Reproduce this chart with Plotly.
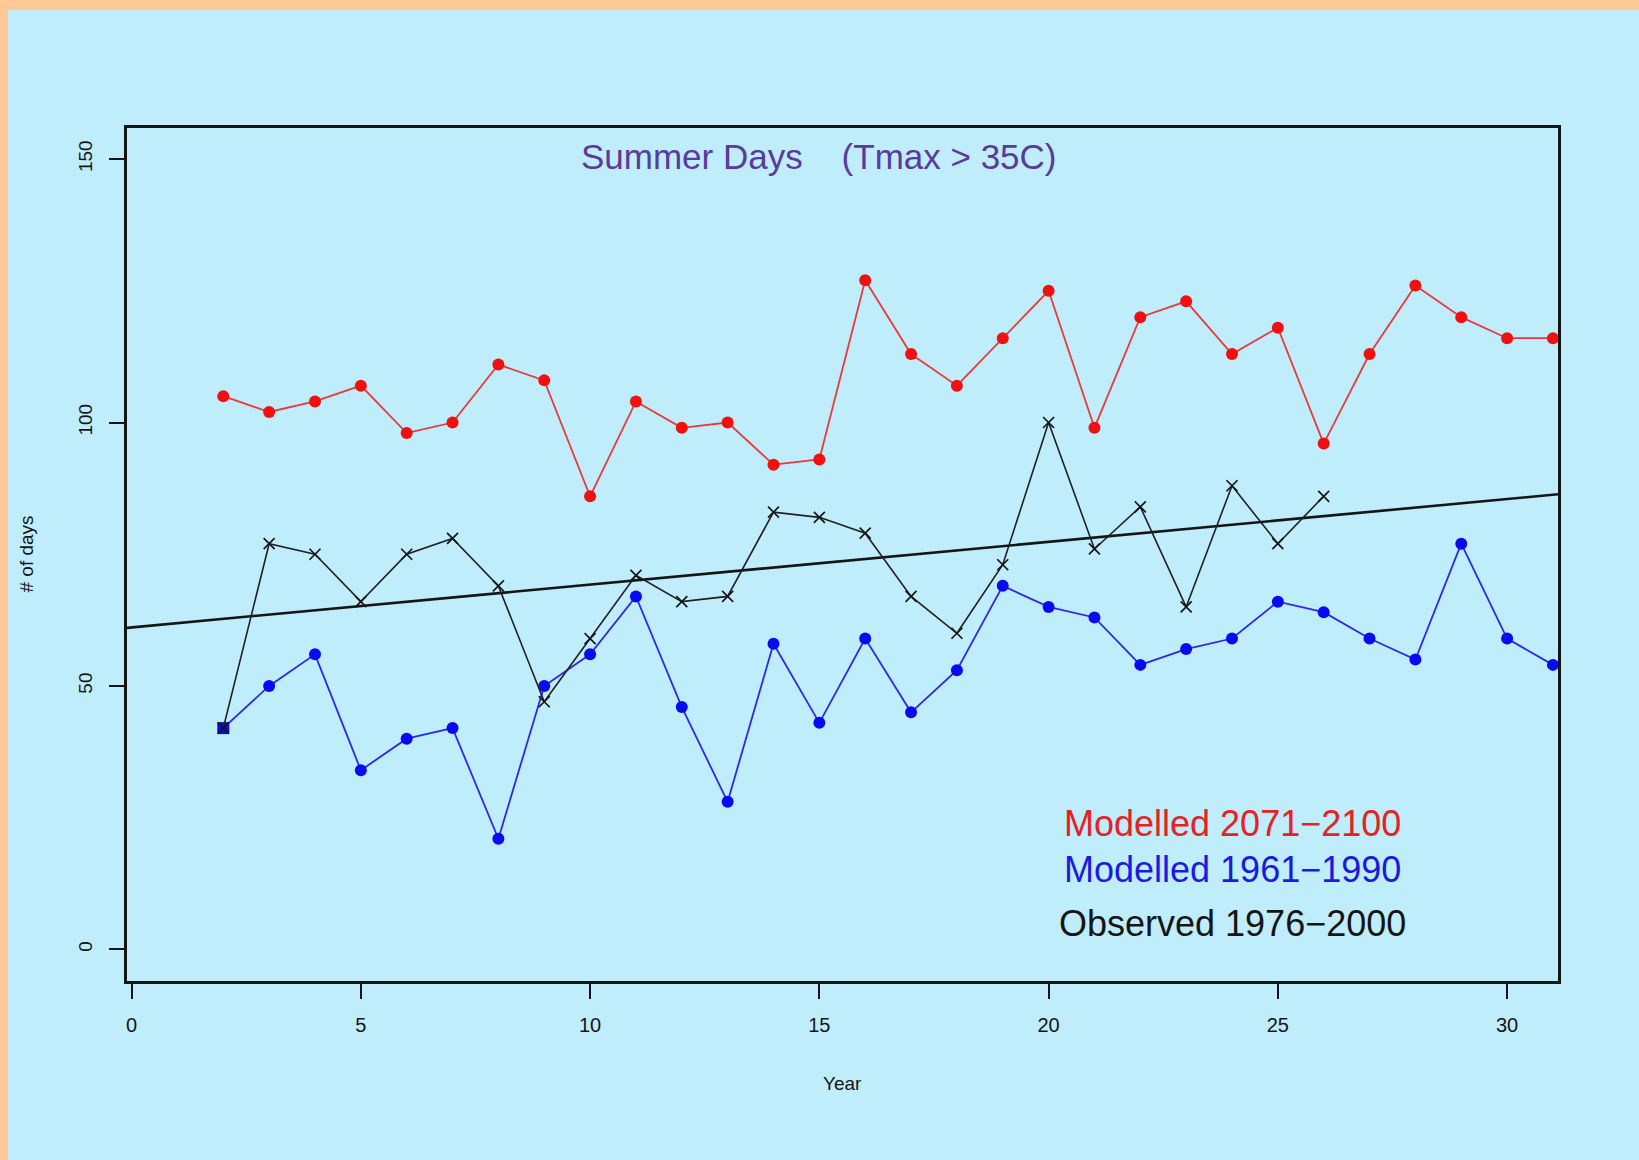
import numpy as np
import plotly.graph_objects as go

# ---- data ----
years_model = list(range(2, 32))
modelled_2071_2100 = [105, 102, 104, 107, 98, 100, 111, 108, 86, 104, 99, 100, 92, 93, 127,
                      113, 107, 116, 125, 99, 120, 123, 113, 118, 96, 113, 126, 120, 116, 116]
modelled_1961_1990 = [42, 50, 56, 34, 40, 42, 21, 50, 56, 67, 46, 28, 58, 43, 59,
                      45, 53, 69, 65, 63, 54, 57, 59, 66, 64, 59, 55, 77, 59, 54]
years_obs = list(range(2, 27))
observed_1976_2000 = [42, 77, 75, 66, 75, 78, 69, 47, 59, 71, 66, 67, 83, 82, 79,
                      67, 60, 73, 100, 76, 84, 65, 88, 77, 86]
x_ticks = [0, 5, 10, 15, 20, 25, 30]
y_ticks = [0, 50, 100, 150]
legend_labels = ["Modelled 2071\u22122100", "Modelled 1961\u22121990", "Observed 1976\u22122000"]
title_text = "Summer Days&nbsp;&nbsp;&nbsp;&nbsp;(Tmax &gt; 35C)"

X_RANGE = [-0.10, 31.11]
Y_RANGE = [-6, 155.9]

# linear trend of observed series (abline of lm)
slope, intercept = np.polyfit(years_obs, observed_1976_2000, 1)
trend_x = np.array(X_RANGE)
trend_y = intercept + slope * trend_x

BG = "#BFEDFC"
ORANGE = "#FFC995"
RED = "#F01010"
BLUE = "#0A0AF0"
BLACK = "#151515"
FONT = "Liberation Sans, Arial, Helvetica, sans-serif"

# plot-area pixel geometry
L, R, T, B = 127, 81, 128, 179
W, H = 1639, 1160
PW = W - L - R
PH = H - T - B

fig = go.Figure()

fig.add_trace(go.Scatter(
    x=trend_x, y=trend_y, mode="lines",
    line=dict(color=BLACK, width=2.6), showlegend=False, hoverinfo="skip"))

fig.add_trace(go.Scatter(
    x=years_model, y=modelled_2071_2100, mode="lines+markers",
    line=dict(color="#E83A3A", width=1.8),
    marker=dict(color=RED, size=12, symbol="circle"),
    showlegend=False, cliponaxis=False))

fig.add_trace(go.Scatter(
    x=years_model, y=modelled_1961_1990, mode="lines+markers",
    line=dict(color="#2A2AE8", width=1.8),
    marker=dict(color=BLUE, size=12,
                symbol=["square"] + ["circle"] * (len(years_model) - 1)),
    showlegend=False, cliponaxis=False))

fig.add_trace(go.Scatter(
    x=years_obs, y=observed_1976_2000, mode="lines+markers",
    line=dict(color="#202020", width=1.6),
    marker=dict(color=BLACK, size=11, symbol="x-thin-open",
                line=dict(color=BLACK, width=1.7)),
    showlegend=False))

axis_common = dict(
    showline=True, mirror=True, linecolor=BLACK, linewidth=2.5,
    ticks="outside", ticklen=15, tickwidth=2, tickcolor=BLACK,
    showgrid=False, zeroline=False, fixedrange=True,
)

fig.update_xaxes(range=X_RANGE, tickvals=x_ticks, ticktext=[str(v) for v in x_ticks],
                 tickfont=dict(family=FONT, size=20, color=BLACK),
                 ticklabelstandoff=9, **axis_common)
fig.update_yaxes(range=Y_RANGE, tickvals=y_ticks, ticktext=[str(v) for v in y_ticks],
                 tickangle=-90, tickfont=dict(family=FONT, size=19, color=BLACK),
                 ticklabelstandoff=10, **axis_common)

annotations = [
    dict(x=15, y=150.4, xref="x", yref="y", text=title_text, showarrow=False,
         xanchor="center", yanchor="middle",
         font=dict(family=FONT, size=35, color="#5A3A9C")),
    dict(x=24.0, y=23.9, xref="x", yref="y", text=legend_labels[0], showarrow=False,
         xanchor="center", yanchor="middle", font=dict(family=FONT, size=36, color="#E82020")),
    dict(x=24.0, y=15.2, xref="x", yref="y", text=legend_labels[1], showarrow=False,
         xanchor="center", yanchor="middle", font=dict(family=FONT, size=36, color="#1A1AE0")),
    dict(x=24.0, y=4.9, xref="x", yref="y", text=legend_labels[2], showarrow=False,
         xanchor="center", yanchor="middle", font=dict(family=FONT, size=36, color=BLACK)),
    # axis titles
    dict(x=(842 - L) / PW, y=(H - B - 1083) / PH, xref="paper", yref="paper",
         text="Year", showarrow=False, xanchor="center", yanchor="middle",
         font=dict(family=FONT, size=19, color=BLACK)),
    dict(x=(26 - L) / PW, y=0.5, xref="paper", yref="paper",
         text="# of days", showarrow=False, textangle=-90, xanchor="center", yanchor="middle",
         font=dict(family=FONT, size=19, color=BLACK)),
]

shapes = [
    # orange frame strips (top and left)
    dict(type="rect", xref="paper", yref="paper", layer="above",
         x0=(0 - L) / PW, x1=(W - L) / PW,
         y0=(H - B - 10) / PH, y1=(H - B) / PH,
         fillcolor=ORANGE, line=dict(width=0)),
    dict(type="rect", xref="paper", yref="paper", layer="above",
         x0=(0 - L) / PW, x1=(8 - L) / PW,
         y0=(H - B - H) / PH, y1=(H - B) / PH,
         fillcolor=ORANGE, line=dict(width=0)),
]

fig.update_layout(
    width=W, height=H, autosize=False,
    margin=dict(l=L, r=R, t=T, b=B, pad=0),
    paper_bgcolor=BG, plot_bgcolor=BG,
    annotations=annotations, shapes=shapes,
    showlegend=False,
)

fig.write_html("out.html")
